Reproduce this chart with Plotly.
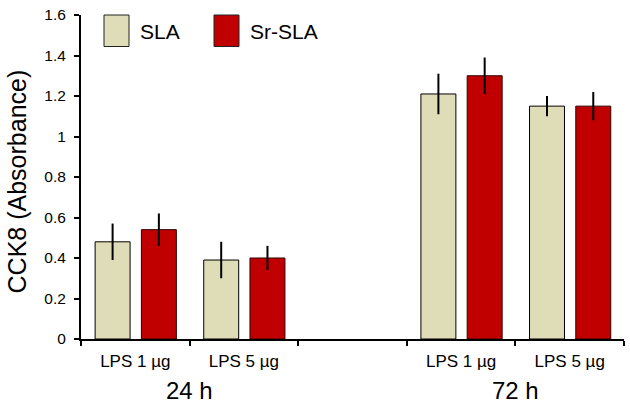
import plotly.graph_objects as go

x_pos = [0, 1, 3, 4]
bar_labels = ["LPS 1 µg", "LPS 5 µg", "LPS 1 µg", "LPS 5 µg"]
groups = ["24 h", "72 h"]
group_pos = [0.5, 3.5]

sla_vals = [0.48, 0.39, 1.21, 1.15]
sla_err = [0.09, 0.09, 0.10, 0.05]
srsla_vals = [0.54, 0.40, 1.30, 1.15]
srsla_err = [0.08, 0.06, 0.09, 0.07]

y_ticks = [0, 0.2, 0.4, 0.6, 0.8, 1.0, 1.2, 1.4, 1.6]

C_SLA = "#DEDDB8"
C_SR = "#C00000"
FONT = "Liberation Sans, Arial, sans-serif"

fig = go.Figure()
fig.add_trace(go.Bar(
    x=x_pos, y=sla_vals, name="SLA", width=0.322, offset=-0.37,
    marker=dict(color=C_SLA, line=dict(color="black", width=1)),
    error_y=dict(type="data", array=sla_err, color="black", thickness=2, width=0),
))
fig.add_trace(go.Bar(
    x=x_pos, y=srsla_vals, name="Sr-SLA", width=0.322, offset=0.056,
    marker=dict(color=C_SR, line=dict(color="#300000", width=1)),
    error_y=dict(type="data", array=srsla_err, color="black", thickness=2, width=0),
))

W, H = 630, 404
ml, mr, mt, mb = 81, 6, 10, 65
pw, ph = W - ml - mr, H - mt - mb

def px_x(p):
    return (p - ml) / pw

def px_y(p):
    return (H - mb - p) / ph

fig.update_layout(
    width=W, height=H,
    margin=dict(l=ml, r=mr, t=mt, b=mb),
    plot_bgcolor="white", paper_bgcolor="white",
    showlegend=False,
    barmode="overlay",
    font=dict(family=FONT, color="black"),
    xaxis=dict(
        range=[-0.5, 4.5],
        tickmode="array", tickvals=x_pos, ticktext=bar_labels,
        ticks="", tickfont=dict(size=17, family=FONT, color="black"),
        showline=True, linecolor="black", linewidth=2,
        showgrid=False, zeroline=False,
        minor=dict(tickmode="array", tickvals=[-0.5, 0.5, 1.5, 2.5, 3.5, 4.5],
                   ticks="outside", ticklen=5, tickwidth=1.5, tickcolor="black",
                   showgrid=False),
        ticklabelstandoff=6,
        fixedrange=True,
    ),
    yaxis=dict(
        range=[0, 1.6],
        tickmode="array", tickvals=y_ticks,
        ticks="outside", ticklen=5, tickwidth=1.5, tickcolor="black",
        tickfont=dict(size=15.5, family=FONT, color="black"),
        showline=True, linecolor="black", linewidth=2,
        showgrid=False, zeroline=False,
        ticklabelstandoff=5,
        fixedrange=True,
    ),
)

annotations = []
for g, gp in zip(groups, group_pos):
    annotations.append(dict(
        x=gp, y=px_y(391), xref="x", yref="paper", text=g, showarrow=False,
        xanchor="center", yanchor="middle", font=dict(size=24, family=FONT, color="black"),
    ))
annotations.append(dict(
    x=px_x(17), y=px_y(179), xref="paper", yref="paper", text="CCK8 (Absorbance)",
    showarrow=False, textangle=-90, xanchor="center", yanchor="middle",
    font=dict(size=25, family=FONT, color="black"),
))
legend_items = [("SLA", C_SLA, 104, 129, 138), ("Sr-SLA", C_SR, 214, 239, 248)]
shapes = []
for name, col, x0, x1, tx in legend_items:
    shapes.append(dict(type="rect", xref="paper", yref="paper",
                       x0=px_x(x0), x1=px_x(x1), y0=px_y(42), y1=px_y(10),
                       fillcolor=col, line=dict(color="#222", width=1)))
    annotations.append(dict(
        x=px_x(tx), y=px_y(27), xref="paper", yref="paper", text=name, showarrow=False,
        xanchor="left", yanchor="middle", font=dict(size=21, family=FONT, color="black"),
    ))
fig.update_layout(annotations=annotations, shapes=shapes)

fig.write_html("out.html", config={"displayModeBar": False},
               post_script="document.body.style.margin='0';document.body.style.padding='0';")
